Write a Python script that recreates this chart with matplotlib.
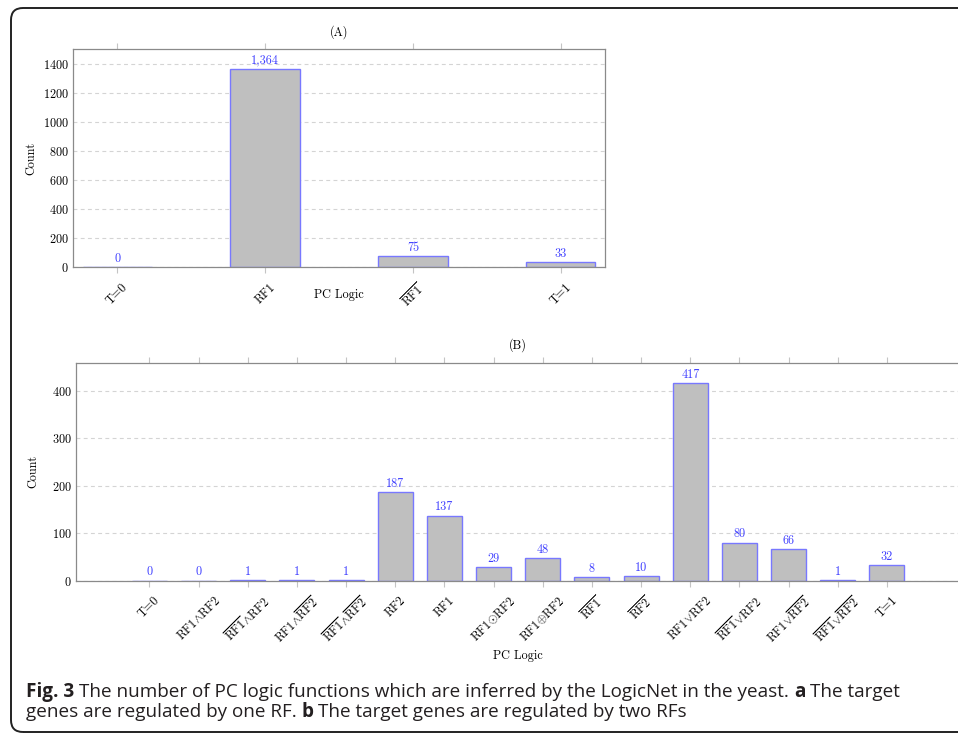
import matplotlib
matplotlib.use('Agg')
import matplotlib.pyplot as plt
from matplotlib.patches import FancyBboxPatch
from matplotlib.transforms import IdentityTransform

plt.rcParams['font.family'] = 'serif'
plt.rcParams['font.serif'] = ['cmr10']
plt.rcParams['mathtext.fontset'] = 'cm'
plt.rcParams['axes.formatter.use_mathtext'] = True
plt.rcParams['font.size'] = 8.8

# (A) funcoes de um RF
rotulos_a = ['T=0', 'RF1', r'$\overline{\mathrm{RF1}}$', 'T=1']
contagem_a = [0, 1364, 75, 33]
yticks_a = [0, 200, 400, 600, 800, 1000, 1200, 1400]

# (B) funcoes de dois RFs
rotulos_b = ['T=0',
             r'$\mathrm{RF1}{\wedge}\mathrm{RF2}$',
             r'$\overline{\mathrm{RF1}}{\wedge}\mathrm{RF2}$',
             r'$\mathrm{RF1}{\wedge}\overline{\mathrm{RF2}}$',
             r'$\overline{\mathrm{RF1}}{\wedge}\overline{\mathrm{RF2}}$',
             'RF2', 'RF1',
             r'$\mathrm{RF1}{\odot}\mathrm{RF2}$',
             r'$\mathrm{RF1}{\oplus}\mathrm{RF2}$',
             r'$\overline{\mathrm{RF1}}$',
             r'$\overline{\mathrm{RF2}}$',
             r'$\mathrm{RF1}{\vee}\mathrm{RF2}$',
             r'$\overline{\mathrm{RF1}}{\vee}\mathrm{RF2}$',
             r'$\mathrm{RF1}{\vee}\overline{\mathrm{RF2}}$',
             r'$\overline{\mathrm{RF1}}{\vee}\overline{\mathrm{RF2}}$',
             'T=1']
contagem_b = [0, 0, 1, 1, 1, 187, 137, 29, 48, 8, 10, 417, 80, 66, 1, 32]
yticks_b = [0, 100, 200, 300, 400]

AZUL = '#3c3cff'
CINZA_BORDA = '#8a8a8a'


def desenhar(ax, rotulos, valores, largura, titulo, yticks, margem, pos_xlabel, pos_ylabel, pos_titulo):
    x = list(range(len(valores)))
    ax.bar(x, valores, width=largura, color='#bfbfbf', edgecolor='#7878ff', linewidth=1.0, zorder=2)
    for xi, v in zip(x, valores):
        ax.annotate(f'{v:,}', (xi, v), xytext=(0, 1.5), textcoords='offset points',
                    ha='center', va='bottom', color=AZUL)
    ax.set_xlim(-margem, len(valores) - 1 + margem)
    ax.set_ylim(0, max(valores) * 1.1)
    ax.set_xticks(x)
    ax.set_xticklabels(rotulos, rotation=45, ha='center', va='top')
    ax.set_yticks(yticks)
    ax.yaxis.grid(True, color='#d4d4d4', linestyle=(0, (3.5, 3)), linewidth=0.8)
    ax.set_axisbelow(True)
    for lado in ax.spines.values():
        lado.set_color(CINZA_BORDA)
        lado.set_linewidth(0.9)
    ax.tick_params(axis='x', top=True, direction='out', length=4.5, width=0.8, color='#c4c4c4', pad=5.5)
    ax.tick_params(axis='y', length=0, pad=3)
    ax.set_xlabel('PC Logic')
    ax.xaxis.set_label_coords(0.5, pos_xlabel)
    ax.xaxis.label.set_va('center')
    ax.set_ylabel('Count')
    ax.yaxis.set_label_coords(pos_ylabel, 0.5)
    ax.yaxis.label.set_va('center')
    ax.text(0.5, pos_titulo, titulo, transform=ax.transAxes, ha='center', va='center')


fig = plt.figure(figsize=(9.58, 7.35), dpi=100)

ax_a = fig.add_axes([73 / 958, (735 - 267) / 735, 532 / 958, 218 / 735])
desenhar(ax_a, rotulos_a, contagem_a, 0.47, '(A)', yticks_a, 0.3, -0.128, -0.078, 1.078)

ax_b = fig.add_axes([75.7 / 958, (735 - 580.5) / 735, 885 / 958, 217.5 / 735])
desenhar(ax_b, rotulos_b, contagem_b, 0.71, '(B)', yticks_b, 1.5, -0.347, -0.048, 1.083)

# moldura arredondada
moldura = FancyBboxPatch((11, 3), 1000, 724, boxstyle='round,pad=0,rounding_size=12',
                         transform=IdentityTransform(), facecolor='none',
                         edgecolor='#222222', linewidth=1.4)
fig.patches.append(moldura)

# legenda da figura, com trechos em negrito
FONTE_LEG = 'Open Sans'
linha1 = [('Fig. 3', 'bold'),
          ('The number of PC logic functions which are inferred by the LogicNet in the yeast.', 'normal'),
          ('a', 'bold'), ('The target', 'normal')]
linha2 = [('genes are regulated by one RF.', 'normal'), ('b', 'bold'),
          ('The target genes are regulated by two RFs', 'normal')]

renderer = fig.canvas.get_renderer()


def largura_px(texto, peso, tam):
    t = fig.text(0, 0, texto, family=FONTE_LEG, fontsize=tam, fontweight=peso)
    w = t.get_window_extent(renderer).width
    t.remove()
    return w


def medir(partes, tam):
    espaco = largura_px('a a', 'normal', tam) - largura_px('aa', 'normal', tam)
    return sum(largura_px(t, p, tam) for t, p in partes) + espaco * (len(partes) - 1)


# primeira linha ocupa de x=26 a x=896
TAM_LEG = 12.0 * 870 / medir(linha1, 12.0)


def escrever(x_px, base_px, partes):
    espaco = largura_px('a a', 'normal', TAM_LEG) - largura_px('aa', 'normal', TAM_LEG)
    x = x_px
    for texto, peso in partes:
        fig.text(x / 958, (735 - base_px) / 735, texto, family=FONTE_LEG, fontsize=TAM_LEG,
                 fontweight=peso, color='#231f20', ha='left', va='baseline')
        x += largura_px(texto, peso, TAM_LEG) + espaco


escrever(26, 697, linha1)
escrever(26, 717, linha2)

fig.savefig('out.png', dpi=100)
